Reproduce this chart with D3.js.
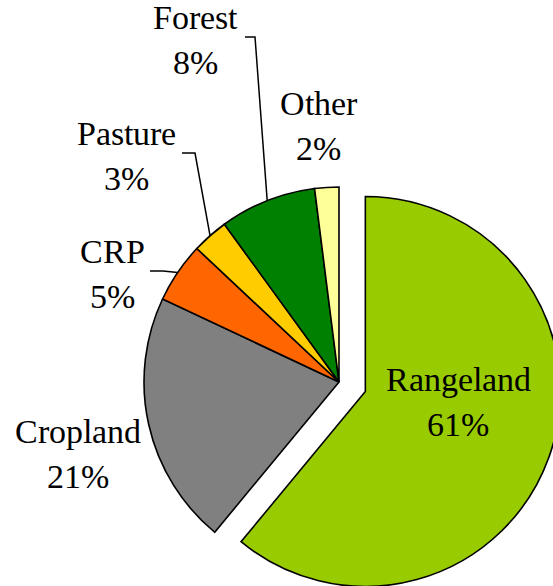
<!DOCTYPE html>
<meta charset="utf-8">
<script src="https://d3js.org/d3.v7.min.js"></script>
<style>
  @font-face {
    font-family: "LabelSerif";
    src: local("Liberation Serif"), local("LiberationSerif"), local("LiberationSerif-Regular"), local("Times New Roman");
  }
  body { margin: 0; background: #fff; }
  .lbl { font-family: "LabelSerif", "Liberation Serif", "Times New Roman", serif; font-size: 34px; fill: #000; }
</style>
<svg width="553" height="586"></svg>
<script>
// data, clockwise from 12 o'clock
var categories = ["Rangeland", "Cropland", "CRP", "Pasture", "Forest", "Other"];
var shares = [61, 21, 5, 3, 8, 2];
var colors = ["#99cc00", "#808080", "#ff6600", "#ffcc00", "#008000", "#ffff99"];

var width = 553, height = 586;
var cx = 339, cy = 382, radius = 195, explode = 28;

// label block: centre x, first baseline; leader: start point + elbow length
var labelLayout = {
  "Rangeland": {x: 458, y: 391},
  "Cropland":  {x: 78,  y: 443},
  "CRP":       {x: 112, y: 263, lx: 150, ly: 271, elbow: 13},
  "Pasture":   {x: 126, y: 145, lx: 182, ly: 153, elbow: 13},
  "Forest":    {x: 195, y: 29,  lx: 245, ly: 37,  elbow: 10},
  "Other":     {x: 318, y: 115}
};

var rows = categories.map(function(c, i) {
  return {name: c, value: shares[i], color: colors[i]};
});

var svg = d3.select("svg");

var pie = d3.pie()
    .sort(null)
    .value(function(d) { return d.value; });

var arc = d3.arc()
    .innerRadius(0)
    .outerRadius(radius);

var arcs = pie(rows);

var g = svg.append("g")
    .attr("transform", "translate(" + cx + "," + cy + ")");

g.selectAll("path")
  .data(arcs)
  .enter().append("path")
    .attr("d", arc)
    .attr("fill", function(d) { return d.data.color; })
    .attr("stroke", "#000")
    .attr("stroke-width", 1.6)
    .attr("transform", function(d) {
      if (d.data.name !== "Rangeland") return null;
      var a = (d.startAngle + d.endAngle) / 2;
      return "translate(" + (Math.sin(a) * explode) + "," + (-Math.cos(a) * explode) + ")";
    });

// leader lines
var leaders = arcs.filter(function(d) { return labelLayout[d.data.name].lx != null; });
svg.append("g").selectAll("path")
  .data(leaders)
  .enter().append("path")
    .attr("fill", "none")
    .attr("stroke", "#000")
    .attr("stroke-width", 1.5)
    .attr("d", function(d) {
      var p = labelLayout[d.data.name];
      var a = (d.startAngle + d.endAngle) / 2;
      var ex = cx + Math.sin(a) * radius, ey = cy - Math.cos(a) * radius;
      return "M" + p.lx + "," + p.ly + "H" + (p.lx + p.elbow) + "L" + ex + "," + ey;
    });

// labels
var labels = svg.append("g").selectAll("text")
  .data(arcs)
  .enter().append("text")
    .attr("class", "lbl")
    .attr("text-anchor", "middle")
    .attr("x", function(d) { return labelLayout[d.data.name].x; })
    .attr("y", function(d) { return labelLayout[d.data.name].y; });

labels.append("tspan")
    .text(function(d) { return d.data.name; });

labels.append("tspan")
    .attr("x", function(d) { return labelLayout[d.data.name].x; })
    .attr("dy", 45)
    .text(function(d) { return d.data.value + "%"; });
</script>
